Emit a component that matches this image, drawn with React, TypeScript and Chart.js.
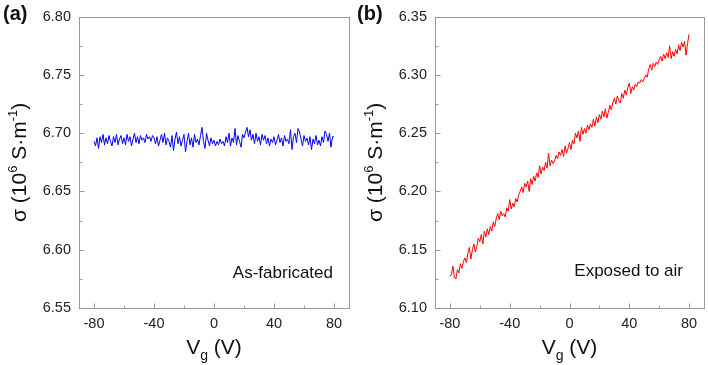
import React, { useEffect, useRef } from 'react';
import { Chart, registerables } from 'chart.js';

Chart.register(...registerables);

// Gate voltage sweep (V)
const vg: number[] = [
  -80, -79, -78, -77, -76, -75, -74, -73, -72, -71,
  -70, -69, -68, -67, -66, -65, -64, -63, -62, -61,
  -60, -59, -58, -57, -56, -55, -54, -53, -52, -51,
  -50, -49, -48, -47, -46, -45, -44, -43, -42, -41,
  -40, -39, -38, -37, -36, -35, -34, -33, -32, -31,
  -30, -29, -28, -27, -26, -25, -24, -23, -22, -21,
  -20, -19, -18, -17, -16, -15, -14, -13, -12, -11,
  -10, -9, -8, -7, -6, -5, -4, -3, -2, -1,
  0, 1, 2, 3, 4, 5, 6, 7, 8, 9,
  10, 11, 12, 13, 14, 15, 16, 17, 18, 19,
  20, 21, 22, 23, 24, 25, 26, 27, 28, 29,
  30, 31, 32, 33, 34, 35, 36, 37, 38, 39,
  40, 41, 42, 43, 44, 45, 46, 47, 48, 49,
  50, 51, 52, 53, 54, 55, 56, 57, 58, 59,
  60, 61, 62, 63, 64, 65, 66, 67, 68, 69,
  70, 71, 72, 73, 74, 75, 76, 77, 78, 79, 80,
];

// (a) As-fabricated conductivity (10^6 S/m)
const sigmaFabricated: number[] = [
  6.693, 6.689, 6.696, 6.687, 6.697, 6.692, 6.699, 6.690, 6.696, 6.691,
  6.698, 6.693, 6.689, 6.697, 6.692, 6.699, 6.690, 6.695, 6.698, 6.691,
  6.696, 6.690, 6.699, 6.693, 6.697, 6.689, 6.695, 6.700, 6.692, 6.697,
  6.691, 6.698, 6.694, 6.696, 6.692, 6.699, 6.695, 6.697, 6.693, 6.698,
  6.696, 6.691, 6.697, 6.689, 6.694, 6.699, 6.692, 6.700, 6.690, 6.696,
  6.693, 6.688, 6.698, 6.685, 6.695, 6.701, 6.691, 6.697, 6.689, 6.694,
  6.699, 6.684, 6.693, 6.700, 6.690, 6.696, 6.688, 6.699, 6.692, 6.695,
  6.690, 6.698, 6.705, 6.693, 6.687, 6.700, 6.694, 6.689, 6.696, 6.691,
  6.694, 6.689, 6.693, 6.690, 6.695, 6.691, 6.693, 6.689, 6.697, 6.692,
  6.700, 6.689, 6.696, 6.692, 6.704, 6.690, 6.698, 6.693, 6.688, 6.699,
  6.696, 6.701, 6.705, 6.697, 6.703, 6.694, 6.699, 6.691, 6.700, 6.693,
  6.697, 6.690, 6.699, 6.694, 6.698, 6.691, 6.696, 6.689, 6.695, 6.692,
  6.697, 6.690, 6.694, 6.699, 6.692, 6.696, 6.689, 6.698, 6.693, 6.695,
  6.691, 6.703, 6.686, 6.697, 6.700, 6.692, 6.704, 6.701, 6.695, 6.689,
  6.698, 6.693, 6.696, 6.690, 6.697, 6.686, 6.695, 6.691, 6.698, 6.690,
  6.694, 6.689, 6.697, 6.692, 6.702, 6.699, 6.693, 6.700, 6.688, 6.697, 6.697,
];

// (b) Exposed-to-air conductivity (10^6 S/m)
const sigmaAir: number[] = [
  6.127, 6.129, 6.136, 6.126, 6.125, 6.133, 6.130, 6.138, 6.134, 6.140,
  6.143, 6.139, 6.147, 6.152, 6.142, 6.150, 6.155, 6.148, 6.153, 6.160,
  6.157, 6.163, 6.155, 6.166, 6.161, 6.168, 6.163, 6.170, 6.166, 6.174,
  6.170, 6.177, 6.181, 6.176, 6.183, 6.179, 6.181, 6.178, 6.186, 6.183,
  6.193, 6.185, 6.190, 6.187, 6.194, 6.191, 6.197, 6.200, 6.204, 6.199,
  6.207, 6.204, 6.209, 6.200, 6.211, 6.206, 6.213, 6.209, 6.216, 6.212,
  6.222, 6.215, 6.221, 6.218, 6.225, 6.220, 6.233, 6.222, 6.227, 6.224,
  6.226, 6.231, 6.228, 6.234, 6.231, 6.236, 6.230, 6.239, 6.233, 6.237,
  6.242, 6.236, 6.244, 6.241, 6.250, 6.246, 6.252, 6.243, 6.255, 6.249,
  6.254, 6.250, 6.257, 6.253, 6.258, 6.255, 6.262, 6.256, 6.264, 6.259,
  6.266, 6.262, 6.269, 6.264, 6.271, 6.263, 6.268, 6.274, 6.270, 6.276,
  6.280, 6.275, 6.282, 6.278, 6.276, 6.284, 6.280, 6.287, 6.283, 6.289,
  6.293, 6.284, 6.290, 6.287, 6.292, 6.290, 6.294, 6.293, 6.296, 6.294,
  6.297, 6.300, 6.298, 6.305, 6.309, 6.304, 6.310, 6.307, 6.311, 6.309,
  6.313, 6.316, 6.312, 6.318, 6.314, 6.319, 6.315, 6.325, 6.314, 6.320,
  6.316, 6.322, 6.318, 6.326, 6.321, 6.328, 6.324, 6.329, 6.317, 6.327, 6.335,
];

const xTicks: number[] = [-80, -40, 0, 40, 80];
const xMinorTicks: number[] = [-60, -20, 20, 60];
const yTicksA: number[] = [6.55, 6.6, 6.65, 6.7, 6.75, 6.8];
const yMinorA: number[] = [6.575, 6.625, 6.675, 6.725, 6.775];
const yTicksB: number[] = [6.1, 6.15, 6.2, 6.25, 6.3, 6.35];
const yMinorB: number[] = [6.125, 6.175, 6.225, 6.275, 6.325];

const FONT = 'Arial, "Liberation Sans", sans-serif';

type PanelCfg = {
  letter: string;
  note: string;
  color: string;
  values: number[];
  yTicks: number[];
  yMinor: number[];
  yWidth: number;
  padRight: number;
  noteRight: number;
  noteUp: number;
  titleX: number;
};

function drawPieces(ctx: CanvasRenderingContext2D, pieces: { t: string; s: number; dy: number }[], x: number, y: number) {
  let total = 0;
  for (const p of pieces) {
    ctx.font = `${p.s}px ${FONT}`;
    total += ctx.measureText(p.t).width;
  }
  let cx = x - total / 2;
  for (const p of pieces) {
    ctx.font = `${p.s}px ${FONT}`;
    ctx.fillText(p.t, cx, y + p.dy);
    cx += ctx.measureText(p.t).width;
  }
}

function makeDeco(cfg: PanelCfg) {
  return {
    id: 'deco' + cfg.letter,
    afterDraw(chart: any) {
      const { ctx, chartArea: a, scales } = chart;
      const x = scales.x;
      const y = scales.y;
      ctx.save();
      ctx.strokeStyle = '#999';
      ctx.lineWidth = 1;
      const L = Math.round(a.left) + 0.5;
      const T = Math.round(a.top) + 0.5;
      const R = Math.round(a.right) + 0.5;
      const B = Math.round(a.bottom) + 0.5;
      ctx.strokeRect(L, T, R - L, B - T);
      ctx.beginPath();
      for (const v of cfg.yTicks) {
        const py = Math.round(y.getPixelForValue(v)) + 0.5;
        ctx.moveTo(L, py); ctx.lineTo(L + 5, py);
      }
      for (const v of cfg.yMinor) {
        const py = Math.round(y.getPixelForValue(v)) + 0.5;
        ctx.moveTo(L, py); ctx.lineTo(L + 3, py);
      }
      for (const v of xTicks) {
        const px = Math.round(x.getPixelForValue(v)) + 0.5;
        ctx.moveTo(px, B); ctx.lineTo(px, B - 5);
      }
      for (const v of xMinorTicks) {
        const px = Math.round(x.getPixelForValue(v)) + 0.5;
        ctx.moveTo(px, B); ctx.lineTo(px, B - 3);
      }
      ctx.stroke();

      ctx.fillStyle = '#111';
      // panel letter
      ctx.font = `bold 20px ${FONT}`;
      ctx.textAlign = 'left';
      ctx.textBaseline = 'alphabetic';
      ctx.fillText(`(${cfg.letter})`, 3, 20);

      // annotation
      ctx.font = `17px ${FONT}`;
      ctx.textAlign = 'right';
      ctx.textBaseline = 'middle';
      ctx.fillText(cfg.note, a.right - cfg.noteRight, a.bottom - cfg.noteUp);

      // x title
      ctx.textAlign = 'left';
      ctx.textBaseline = 'alphabetic';
      drawPieces(ctx, [
        { t: 'V', s: 21, dy: 0 },
        { t: 'g', s: 14, dy: 6 },
        { t: ' (V)', s: 21, dy: 0 },
      ], (a.left + a.right) / 2, a.bottom + 46);

      // y title (rotated)
      ctx.translate(cfg.titleX, (a.top + a.bottom) / 2);
      ctx.rotate(-Math.PI / 2);
      drawPieces(ctx, [
        { t: 'σ (10', s: 21, dy: 0 },
        { t: '6', s: 13, dy: -9 },
        { t: ' S·m', s: 21, dy: 0 },
        { t: '-1', s: 13, dy: -9 },
        { t: ')', s: 21, dy: 0 },
      ], 0, 0);
      ctx.restore();
    },
  };
}

function Panel({ cfg }: { cfg: PanelCfg }) {
  const ref = useRef<HTMLCanvasElement | null>(null);
  useEffect(() => {
    if (!ref.current) return;
    const data = vg.map((v, i) => ({ x: v, y: cfg.values[i] }));
    const chart = new Chart(ref.current, {
      type: 'line',
      data: {
        datasets: [{
          data,
          borderColor: cfg.color,
          borderWidth: 1,
          pointRadius: 0,
          tension: 0,
          fill: false,
        }],
      },
      options: {
        animation: false,
        responsive: false,
        devicePixelRatio: 1,
        layout: { padding: { top: 13, right: cfg.padRight, left: 0, bottom: 0 } },
        plugins: { legend: { display: false }, tooltip: { enabled: false } },
        scales: {
          x: {
            type: 'linear',
            min: -90,
            max: 90,
            grid: { display: false, drawTicks: false },
            border: { display: false },
            afterBuildTicks: (s: any) => { s.ticks = xTicks.map((v) => ({ value: v })); },
            afterFit: (s: any) => { s.height = 57; },
            ticks: {
              padding: 7,
              color: '#222',
              font: { family: FONT, size: 14.5 },
              maxRotation: 0,
              callback: (v: any) => String(v),
            },
          },
          y: {
            type: 'linear',
            min: cfg.yTicks[0],
            max: cfg.yTicks[cfg.yTicks.length - 1],
            grid: { display: false, drawTicks: false },
            border: { display: false },
            afterBuildTicks: (s: any) => { s.ticks = cfg.yTicks.map((v) => ({ value: v })); },
            afterFit: (s: any) => { s.width = cfg.yWidth; },
            ticks: {
              padding: 8,
              color: '#222',
              font: { family: FONT, size: 14.5 },
              callback: (v: any) => Number(v).toFixed(2),
            },
          },
        },
      },
      plugins: [makeDeco(cfg)],
    } as any);
    return () => chart.destroy();
  }, [cfg]);
  return <canvas ref={ref} width={354} height={365} style={{ display: 'block', width: 354, height: 365 }} />;
}

const panelA: PanelCfg = {
  letter: 'a', note: 'As-fabricated', color: '#0000ff', values: sigmaFabricated,
  yTicks: yTicksA, yMinor: yMinorA, yWidth: 79, padRight: 5, noteRight: 16, noteUp: 35, titleX: 26,
};
const panelB: PanelCfg = {
  letter: 'b', note: 'Exposed to air', color: '#ff0000', values: sigmaAir,
  yTicks: yTicksB, yMinor: yMinorB, yWidth: 81, padRight: 4, noteRight: 21, noteUp: 37, titleX: 28,
};

export default function App() {
  return (
    <div style={{ position: 'absolute', left: 0, top: 0, width: 708, height: 365, display: 'flex', background: '#fff' }}>
      <Panel cfg={panelA} />
      <Panel cfg={panelB} />
    </div>
  );
}
